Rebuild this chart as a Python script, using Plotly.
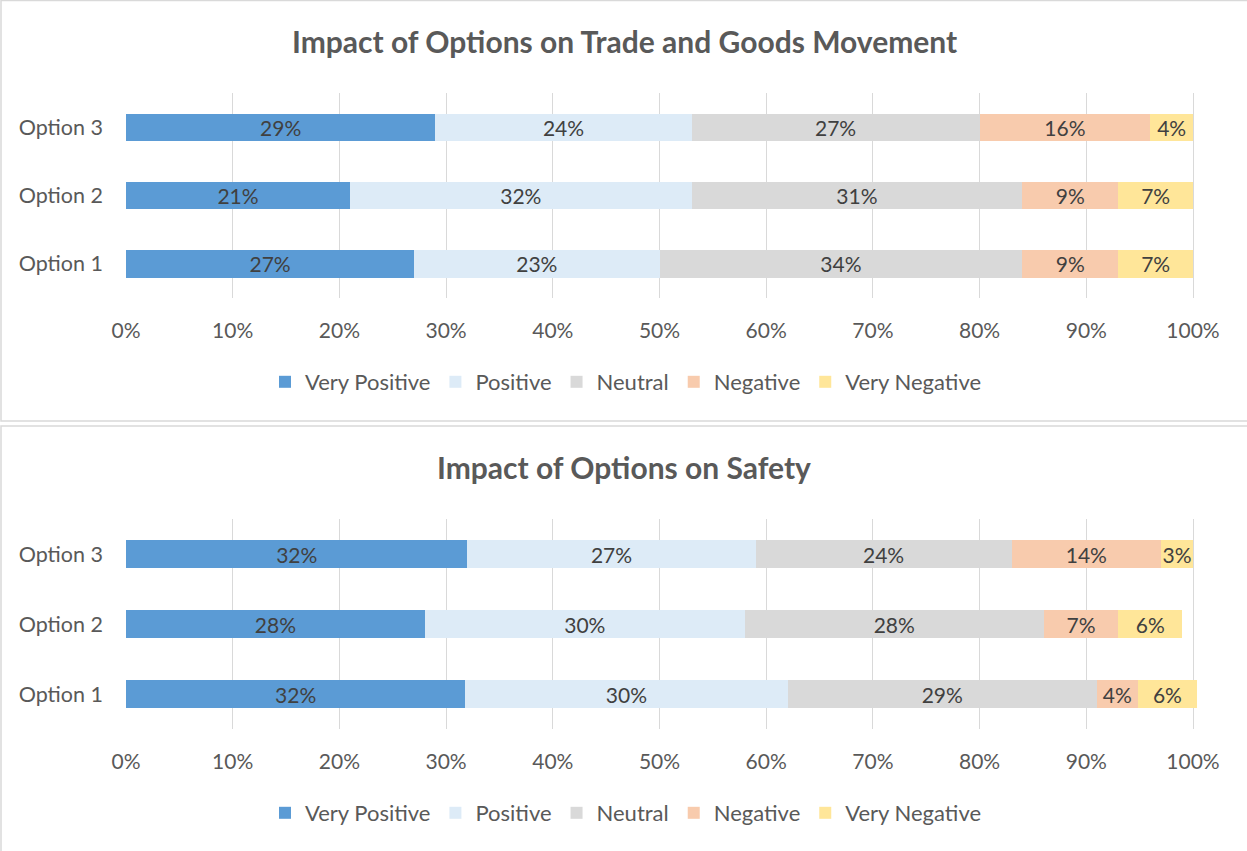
import plotly.graph_objects as go

W, H = 1247, 851

categories = ["Option 1", "Option 2", "Option 3"]
series_names = ["Very Positive", "Positive", "Neutral", "Negative", "Very Negative"]
colors = ["#5B9BD5", "#DDEBF7", "#D9D9D9", "#F8CBAD", "#FFE699"]

# Trade and Goods Movement (percent), order: Option 1, Option 2, Option 3
trade_very_positive = [27, 21, 29]
trade_positive = [23, 32, 24]
trade_neutral = [34, 31, 27]
trade_negative = [9, 9, 16]
trade_very_negative = [7, 7, 4]

# Safety (percent)
safety_very_positive = [31.8, 28, 32]
safety_positive = [30.2, 30, 27]
safety_neutral = [29.0, 28, 24]
safety_negative = [3.8, 7, 14]
safety_very_negative = [5.6, 6, 3]

x_ticks = [0, 10, 20, 30, 40, 50, 60, 70, 80, 90, 100]
tick_labels = [f"{t}%" for t in x_ticks]

titles = ["Impact of Options on Trade and Goods Movement", "Impact of Options on Safety"]

FONT = "Lato"
TXT = "#595959"
LBL = "#404040"
FS = 21

def px_x(p):
    return p / W

def px_y(p):
    return 1 - p / H

fig = go.Figure()

trade = [trade_very_positive, trade_positive, trade_neutral, trade_negative, trade_very_negative]
safety = [safety_very_positive, safety_positive, safety_neutral, safety_negative, safety_very_negative]

for idx, (data, xa, ya, leg) in enumerate([(trade, "x", "y", "legend"), (safety, "x2", "y2", "legend2")]):
    for name, vals, col in zip(series_names, data, colors):
        fig.add_trace(go.Bar(
            y=categories, x=vals, name=name, orientation="h",
            marker=dict(color=col, line=dict(width=0)),
            text=[f"{round(v)}%" for v in vals],
            textposition="inside", insidetextanchor="middle", textangle=0,
            constraintext="none",
            textfont=dict(family=FONT, size=FS, color=LBL),
            xaxis=xa, yaxis=ya, legend=leg, width=0.4,
            cliponaxis=False, hoverinfo="skip",
        ))

XMAX = 100.5
x0px, x100px = 126, 1193
xdom = [px_x(x0px), px_x(x0px + (x100px - x0px) * XMAX / 100)]
axis_common = dict(
    range=[0, XMAX], tickvals=x_ticks, ticktext=tick_labels,
    showgrid=True, gridcolor="#D9D9D9", gridwidth=1.3, zeroline=False,
    showline=False, ticks="", tickfont=dict(family=FONT, size=FS, color=TXT),
    ticklabelstandoff=18, automargin=False, fixedrange=True,
)
yaxis_common = dict(
    showgrid=False, zeroline=False, showline=False, ticks="",
    tickfont=dict(family=FONT, size=21.5, color=TXT), ticklabelstandoff=22,
    categoryorder="array", categoryarray=categories, automargin=False, fixedrange=True,
)

legend_common = dict(orientation="h", x=px_x(626), xanchor="center", yanchor="middle",
                     font=dict(family=FONT, size=22, color=TXT), traceorder="normal",
                     itemwidth=30, bgcolor="rgba(0,0,0,0)")

fig.update_layout(
    width=W, height=H, autosize=False,
    margin=dict(l=0, r=0, t=0, b=0, pad=0),
    paper_bgcolor="white", plot_bgcolor="white",
    barmode="stack", bargap=0.6,
    font=dict(family=FONT, color=TXT),
    xaxis=dict(domain=xdom, anchor="y", **axis_common),
    yaxis=dict(domain=[px_y(298), px_y(93)], anchor="x", **yaxis_common),
    xaxis2=dict(domain=xdom, anchor="y2", **axis_common),
    yaxis2=dict(domain=[px_y(729), px_y(519)], anchor="x2", **yaxis_common),
    legend=dict(y=px_y(382), **legend_common),
    legend2=dict(y=px_y(813), **legend_common),
    showlegend=True,
)

# panel titles
for t, yp in zip(titles, [41, 467]):
    fig.add_annotation(text=f"<b>{t}</b>", x=px_x(624), y=px_y(yp), xref="paper", yref="paper",
                       xanchor="center", yanchor="middle", showarrow=False,
                       font=dict(family=FONT, size=30, color=TXT))

# panel borders
fig.add_shape(type="rect", xref="paper", yref="paper", x0=px_x(1), x1=1.02,
              y0=px_y(421), y1=px_y(0.5), line=dict(color="#D9D9D9", width=1.5), layer="below")
fig.add_shape(type="rect", xref="paper", yref="paper", x0=px_x(1), x1=1.02,
              y0=-0.02, y1=px_y(426), line=dict(color="#D9D9D9", width=1.5), layer="below")

fig.write_html("out.html", config={"displayModeBar": False},
               post_script="document.body.style.margin='0';document.body.style.overflow='hidden';")
